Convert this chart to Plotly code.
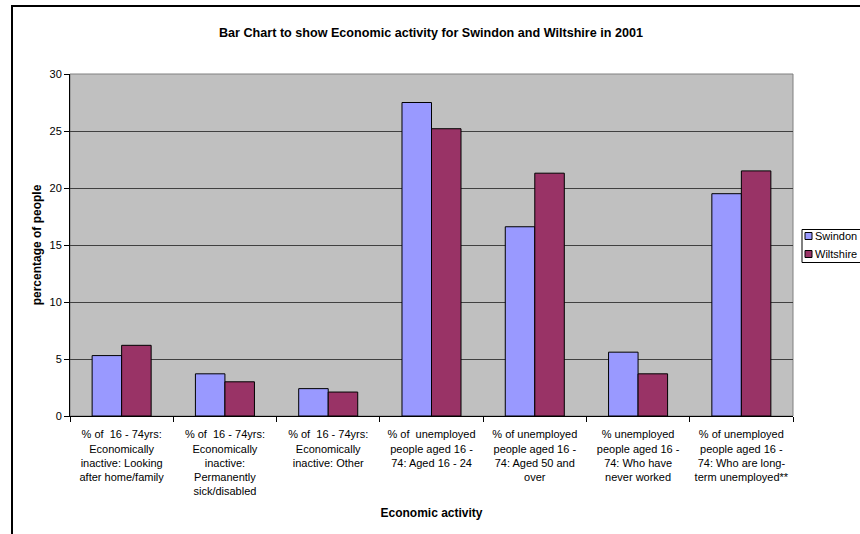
import plotly.graph_objects as go

categories = [
    "% of\u00a0 16 - 74yrs:<br>Economically<br>inactive: Looking<br>after home/family",
    "% of\u00a0 16 - 74yrs:<br>Economically<br>inactive:<br>Permanently<br>sick/disabled",
    "% of\u00a0 16 - 74yrs:<br>Economically<br>inactive: Other",
    "% of\u00a0 unemployed<br>people aged 16 -<br>74: Aged 16 - 24",
    "% of unemployed<br>people aged 16 -<br>74: Aged 50 and<br>over",
    "% unemployed<br>people aged 16 -<br>74: Who have<br>never worked",
    "% of unemployed<br>people aged 16 -<br>74: Who are long-<br>term unemployed**",
]
swindon = [5.3, 3.7, 2.4, 27.5, 16.6, 5.6, 19.5]
wiltshire = [6.2, 3.0, 2.1, 25.2, 21.3, 3.7, 21.5]
series_names = ["Swindon", "Wiltshire"]
series_colors = ["#9999FF", "#993366"]
y_ticks = [0, 5, 10, 15, 20, 25, 30]

W, H = 860, 534
# plot area in window pixels
L, R, T, B = 70, 793, 74, 416
PW, PH = R - L, B - T


def px(x):
    return (x - L) / PW


def py(y):
    return (B - y) / PH


FONT = "Liberation Sans, Arial, sans-serif"

fig = go.Figure()
for name, vals, col in zip(series_names, [swindon, wiltshire], series_colors):
    fig.add_trace(go.Bar(
        x=categories, y=vals, name=name,
        marker=dict(color=col, line=dict(color="#000000", width=1)),
        showlegend=False,
    ))

shapes = [
    dict(type="rect", xref="paper", yref="paper", x0=0, x1=1, y0=0, y1=1,
         line=dict(color="#808080", width=1), layer="below"),
    dict(type="rect", xref="paper", yref="paper", x0=px(12), x1=px(890),
         y0=py(570), y1=py(6), line=dict(color="#000000", width=2)),
    dict(type="rect", xref="paper", yref="paper", x0=px(802), x1=px(890),
         y0=py(262.5), y1=py(229.5), line=dict(color="#000000", width=1),
         fillcolor="#FFFFFF"),
]
annotations = []
for i, (name, col) in enumerate(zip(series_names, series_colors)):
    cy = 236 + i * 18
    shapes.append(dict(type="rect", xref="paper", yref="paper",
                       x0=px(805), x1=px(812), y0=py(cy + 3.5), y1=py(cy - 3.5),
                       fillcolor=col, line=dict(color="#000000", width=1)))
    annotations.append(dict(text=name, xref="paper", yref="paper",
                            x=px(813), y=py(cy), xanchor="left", yanchor="middle",
                            showarrow=False, font=dict(size=11, color="#000000", family=FONT)))

fig.update_layout(
    width=W, height=H,
    margin=dict(l=L, r=W - R, t=T, b=H - B, pad=0),
    paper_bgcolor="#FFFFFF",
    plot_bgcolor="#C0C0C0",
    font=dict(family=FONT, size=11, color="#000000"),
    title=dict(text="<b>Bar Chart to show Economic activity for Swindon and Wiltshire in 2001</b>",
               x=431 / W, xref="container", xanchor="center",
               y=1 - 33 / H, yref="container", yanchor="middle",
               font=dict(size=12.6, family=FONT, color="#000000")),
    barmode="group",
    bargap=1.5 / 3.5,
    bargroupgap=0,
    shapes=shapes,
    annotations=annotations,
    xaxis=dict(
        title=dict(text="<b>Economic activity</b>", font=dict(size=12), standoff=12),
        tickangle=0, tickson="boundaries", ticks="outside", ticklen=5,
        ticklabelstandoff=8,
        tickcolor="#000000", showline=True, linecolor="#000000", linewidth=1,
        showgrid=False, tickfont=dict(size=11),
    ),
    yaxis=dict(
        title=dict(text="<b>percentage of people</b>", font=dict(size=12), standoff=5),
        range=[0, 30], tickvals=y_ticks, ticks="outside", ticklen=5,
        tickcolor="#000000", showline=True, linecolor="#000000", linewidth=1,
        showgrid=True, gridcolor="#404040", gridwidth=1, zeroline=False,
        tickfont=dict(size=11),
    ),
)

fig.write_html("out.html", config={"displayModeBar": False},
               post_script="document.body.style.margin='0';")
